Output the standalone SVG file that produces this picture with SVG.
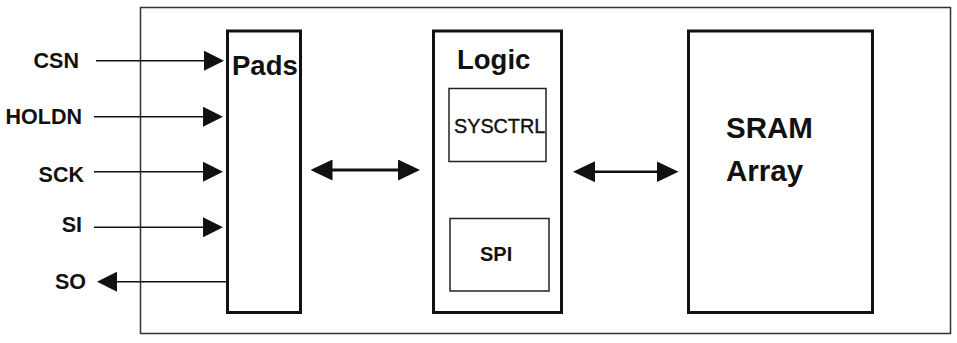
<svg xmlns="http://www.w3.org/2000/svg" width="957" height="343" viewBox="0 0 957 343">
<style>
text{font-family:"Liberation Sans",Arial,sans-serif;fill:#111}
.lbl{font-size:21.5px;font-weight:bold;text-anchor:end}
.title{font-size:27.5px;font-weight:bold}
.big{font-size:29.5px;font-weight:bold}
.box{fill:#fff;stroke:#111;stroke-width:3}
.sub{fill:#fff;stroke:#222;stroke-width:1.5}
.sig{stroke:#111;stroke-width:1.6;fill:none}
.bus{stroke:#111;stroke-width:3;fill:none}
</style>
<defs>
<marker id="ah" viewBox="0 0 20 20" markerWidth="20" markerHeight="20" markerUnits="userSpaceOnUse" refX="10" refY="10" orient="auto-start-reverse">
<path d="M0,0 L20,10 L0,20 z" fill="#111"/>
</marker>
<marker id="bh" viewBox="0 0 22 21" markerWidth="22" markerHeight="21" markerUnits="userSpaceOnUse" refX="11" refY="10.5" orient="auto-start-reverse">
<path d="M0,0 L22,10.5 L0,21 z" fill="#111"/>
</marker>
</defs>
<rect id="frame" x="140.5" y="7.5" width="810" height="326" fill="#fff" stroke="#333" stroke-width="1.5"/>
<g id="pads">
<rect class="box" x="227.5" y="31" width="73" height="281.5"/>
<text class="title" x="232" y="75">Pads</text>
</g>
<g id="logic">
<rect class="box" x="433.5" y="31" width="128" height="281.5"/>
<text class="title" x="457" y="69">Logic</text>
</g>
<g id="sysctrl">
<rect class="sub" x="449" y="88.5" width="97" height="73"/>
<text x="454" y="133" style="font-size:19.8px;stroke:#111;stroke-width:0.4">SYSCTRL</text>
</g>
<g id="spi">
<rect class="sub" x="450" y="218.5" width="99" height="72.5"/>
<text x="480" y="261" style="font-size:20px;font-weight:bold">SPI</text>
</g>
<g id="sram">
<rect class="box" x="688.5" y="31" width="184" height="281.5"/>
<text class="big" x="726" y="138">SRAM</text>
<text class="big" x="726" y="181">Array</text>
</g>
<g id="signals">
<text class="lbl" x="79" y="68">CSN</text>
<text class="lbl" x="82" y="124">HOLDN</text>
<text class="lbl" x="84" y="182">SCK</text>
<text class="lbl" x="82" y="232">SI</text>
<text class="lbl" x="86" y="289">SO</text>
</g>
<g id="connectors">
<path class="sig" d="M96,60.7 H214" marker-end="url(#ah)"/>
<path class="sig" d="M94,116.7 H213" marker-end="url(#ah)"/>
<path class="sig" d="M94,171.7 H213" marker-end="url(#ah)"/>
<path class="sig" d="M94,227.3 H213" marker-end="url(#ah)"/>
<path class="sig" d="M227,281.7 H107" marker-end="url(#ah)"/>
<path class="bus" d="M321.5,170 H409" marker-start="url(#bh)" marker-end="url(#bh)"/>
<path class="bus" d="M584,171.7 H667.5" style="stroke-width:2.5" marker-start="url(#bh)" marker-end="url(#bh)"/>
</g>
</svg>
